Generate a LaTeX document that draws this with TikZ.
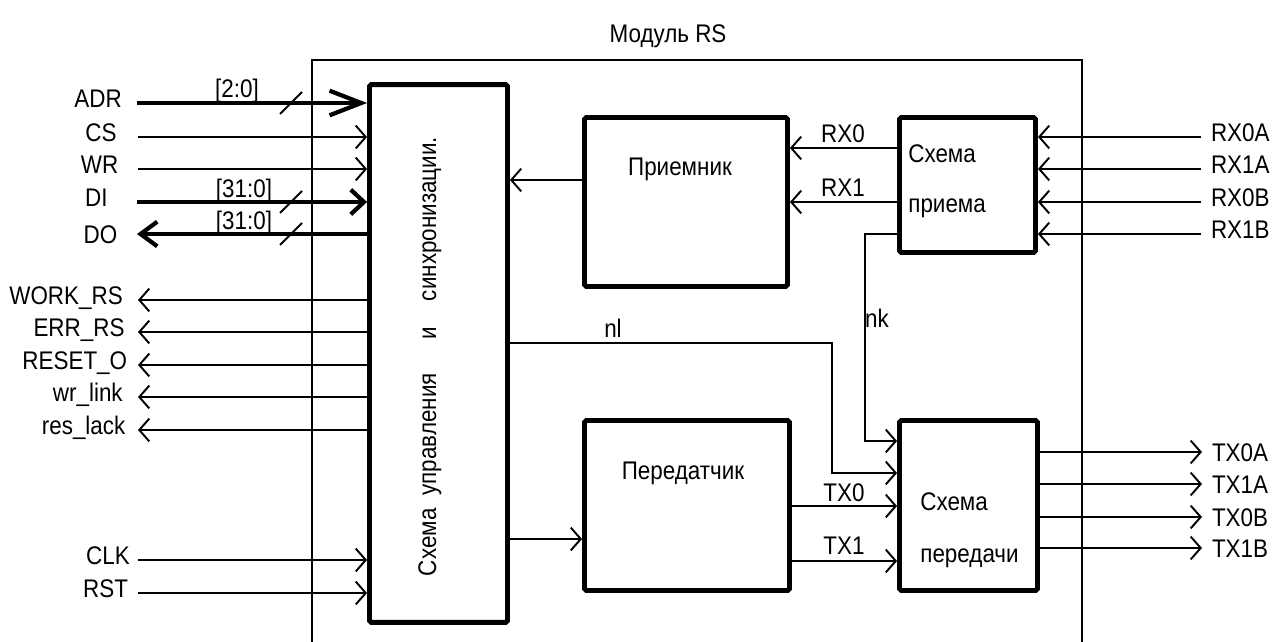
\documentclass[tikz,border=0pt]{standalone}
\usepackage{fontspec}
\setmainfont{Liberation Sans}[FakeStretch=0.88]
\usetikzlibrary{arrows.meta, positioning}
\newcommand{\sigfont}{\fontsize{14.5}{16}\selectfont}

\begin{document}
\begin{tikzpicture}[
    x=0.02cm, y=-0.02cm,
    >={Straight Barb[length=5.7pt,width=13pt]},
    blk/.style={draw, line width=2.8pt, rounded corners=1pt},
    sig/.style={line width=1.1pt},
    bus/.style={line width=2.4pt},
    frame/.style={line width=0.6pt},
    lbl/.style={font=\sigfont, inner sep=0pt, text height=10.4pt, text depth=0pt},
    raised/.style={yshift=2.5pt}
  ]
    \useasboundingbox (0,0) rectangle (1275,642);

    % module frame
    \node[lbl] (title) at (668,33) {Модуль RS};
    \draw[frame] (312,642) |- (1082,60) -- (1082,642);

    % blocks
    \node[blk, minimum width=2.76cm, minimum height=10.76cm] (ctrl) at (438.5,353.5) {};
    \node[blk, minimum width=4.06cm, minimum height=3.38cm] (rcv) at (686,202) {};
    \node[blk, minimum width=2.72cm, minimum height=2.70cm] (rxsch) at (967.5,185) {};
    \node[blk, minimum width=4.10cm, minimum height=3.40cm] (trm) at (687,505.5) {};
    \node[blk, minimum width=2.76cm, minimum height=3.40cm] (txsch) at (968.5,505.5) {};

    \node[lbl, rotate=90] (ctrltxt) at (427,356.5)
      {Схема\hspace{7.4pt}управления\hspace{19pt}и\hspace{15pt}синхронизации.};
    \node[lbl] (rcvtxt) at (680,166) {Приемник};
    \node[lbl] (trmtxt) at (683,470) {Передатчик};
    \node[lbl, anchor=base west] (rxtxtA) at (908,163) {Схема};
    \node[lbl, anchor=base west] (rxtxtB) at (908,213) {приема};
    \node[lbl, anchor=base west] (txtxtA) at (920,510) {Схема};
    \node[lbl, anchor=base west] (txtxtB) at (920,562) {передачи};

    % left pins
    \coordinate (pADR) at (137,103);
    \coordinate (pCS) at (138,137);
    \coordinate (pWR) at (138,169);
    \coordinate (pDI) at (137,202);
    \coordinate (pDO) at (137,234);
    \coordinate (pWORK) at (138,300);
    \coordinate (pERR) at (138,332);
    \coordinate (pRESET) at (138,365);
    \coordinate (pWRL) at (138,397);
    \coordinate (pRESL) at (138,430);
    \coordinate (pCLK) at (138,560);
    \coordinate (pRST) at (138,593);

    \node[lbl, raised, left=8.5pt of pADR] (lADR) {ADR};
    \node[lbl, raised, left=12pt of pCS] (lCS) {CS};
    \node[lbl, raised, left=11pt of pWR] (lWR) {WR};
    \node[lbl, raised, left=16.5pt of pDI] (lDI) {DI};
    \node[lbl, left=11pt of pDO] (lDO) {DO};
    \node[lbl, raised, left=8.5pt of pWORK] (lWORK) {WORK\_RS};
    \node[lbl, raised, left=7.5pt of pERR] (lERR) {ERR\_RS};
    \node[lbl, raised, left=6pt of pRESET] (lRESET) {RESET\_O};
    \node[lbl, raised, left=8.5pt of pWRL] (lWRL) {wr\_link};
    \node[lbl, raised, left=7pt of pRESL] (lRESL) {res\_lack};
    \node[lbl, raised, left=4.5pt of pCLK] (lCLK) {CLK};
    \node[lbl, raised, left=5.5pt of pRST] (lRST) {RST};

    \draw[bus, -{Straight Barb[length=18pt,width=14pt]}] (pADR) -- (ctrl.west |- pADR);
    \draw[sig, ->] (pCS) -- (ctrl.west |- pCS);
    \draw[sig, ->] (pWR) -- (ctrl.west |- pWR);
    \draw[bus, -{Straight Barb[length=7.5pt,width=14pt]}] (pDI) -- (ctrl.west |- pDI);
    \draw[bus, {Straight Barb[length=9.5pt,width=14pt]}-] (pDO) -- (ctrl.west |- pDO);
    \draw[sig, <-] (pWORK) -- (ctrl.west |- pWORK);
    \draw[sig, <-] (pERR) -- (ctrl.west |- pERR);
    \draw[sig, <-] (pRESET) -- (ctrl.west |- pRESET);
    \draw[sig, <-] (pWRL) -- (ctrl.west |- pWRL);
    \draw[sig, <-] (pRESL) -- (ctrl.west |- pRESL);
    \draw[sig, ->] (pCLK) -- (ctrl.west |- pCLK);
    \draw[sig, ->] (pRST) -- (ctrl.west |- pRST);

    % bus widths
    \node[lbl] (wADR) at (237,88) {[2:0]};
    \node[lbl] (wDI) at (244,188) {[31:0]};
    \node[lbl] (wDO) at (244,220) {[31:0]};
    \draw[sig] (280,114) -- (302,92);
    \draw[sig] (280,213) -- (302,191);
    \draw[sig] (280,245) -- (302,223);

    % internal links
    \draw[sig, ->] (rcv.west |- 0,180) -- (ctrl.east |- 0,180);
    \draw[sig, ->] (ctrl.east |- 0,539) -- (trm.west |- 0,539);
    \draw[sig, ->] (rxsch.west |- 0,148) -- (rcv.east |- 0,148);
    \draw[sig, ->] (rxsch.west |- 0,202) -- (rcv.east |- 0,202);
    \draw[sig, ->] (trm.east |- 0,506) -- (txsch.west |- 0,506);
    \draw[sig, ->] (trm.east |- 0,561) -- (txsch.west |- 0,561);
    \draw[sig, ->] (ctrl.east |- 0,343) -| (832,473) -- (txsch.west |- 0,473);
    \draw[sig, ->] (rxsch.west |- 0,234) -| (865,441) -- (txsch.west |- 0,441);

    \node[lbl] (lRX0) at (843,133) {RX0};
    \node[lbl] (lRX1) at (843,187) {RX1};
    \node[lbl] (lTX0) at (844,492) {TX0};
    \node[lbl] (lTX1) at (844,545) {TX1};
    \node[lbl] (lnl) at (613,328) {nl};
    \node[lbl] (lnk) at (877,318) {nk};

    % right pins
    \coordinate (pRX0A) at (1201,137);
    \coordinate (pRX1A) at (1201,169);
    \coordinate (pRX0B) at (1201,202);
    \coordinate (pRX1B) at (1201,234);
    \coordinate (pTX0A) at (1202,452);
    \coordinate (pTX1A) at (1202,484);
    \coordinate (pTX0B) at (1202,517);
    \coordinate (pTX1B) at (1202,548);

    \node[lbl, raised, right=5.5pt of pRX0A] (lRX0A) {RX0A};
    \node[lbl, raised, right=5.5pt of pRX1A] (lRX1A) {RX1A};
    \node[lbl, raised, right=5.5pt of pRX0B] (lRX0B) {RX0B};
    \node[lbl, raised, right=5.5pt of pRX1B] (lRX1B) {RX1B};
    \node[lbl, right=5.5pt of pTX0A] (lTX0A) {TX0A};
    \node[lbl, right=5.5pt of pTX1A] (lTX1A) {TX1A};
    \node[lbl, right=5.5pt of pTX0B] (lTX0B) {TX0B};
    \node[lbl, right=5.5pt of pTX1B] (lTX1B) {TX1B};

    \draw[sig, ->] (pRX0A) -- (rxsch.east |- pRX0A);
    \draw[sig, ->] (pRX1A) -- (rxsch.east |- pRX1A);
    \draw[sig, ->] (pRX0B) -- (rxsch.east |- pRX0B);
    \draw[sig, ->] (pRX1B) -- (rxsch.east |- pRX1B);
    \draw[sig, ->] (txsch.east |- pTX0A) -- (pTX0A);
    \draw[sig, ->] (txsch.east |- pTX1A) -- (pTX1A);
    \draw[sig, ->] (txsch.east |- pTX0B) -- (pTX0B);
    \draw[sig, ->] (txsch.east |- pTX1B) -- (pTX1B);
  \end{tikzpicture}
\end{document}
